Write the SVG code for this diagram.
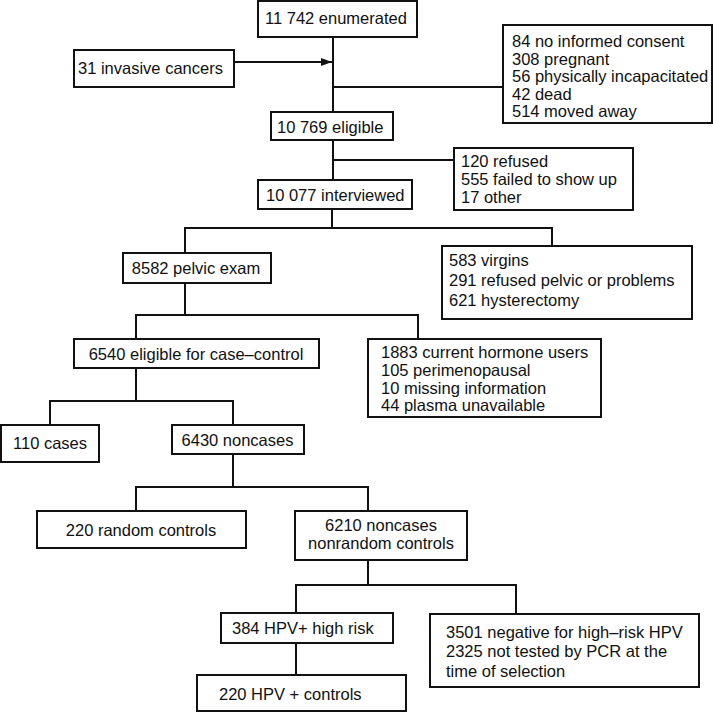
<svg xmlns="http://www.w3.org/2000/svg" width="713" height="713" viewBox="0 0 713 713">
<defs>
<style>
.b{fill:#fff;stroke:#111;stroke-width:2}
.c{fill:none;stroke:#111;stroke-width:2}
text{font-family:"Liberation Sans",Arial,sans-serif;font-size:16.5px;fill:#111}
.m{text-anchor:middle}
</style>
<marker id="ah" markerWidth="12" markerHeight="10" refX="11" refY="5" orient="auto" markerUnits="userSpaceOnUse">
<path d="M0,1 L11,5 L0,9 Z" fill="#111"/>
</marker>
</defs>
<rect width="713" height="713" fill="#fff"/>
<g id="connectors">
<path class="c" d="M333,37 V112"/>
<path class="c" d="M234,62 H332" marker-end="url(#ah)"/>
<path class="c" d="M333,87 H503"/>
<path class="c" d="M333,140 V180"/>
<path class="c" d="M333,160 H454"/>
<path class="c" d="M332,209 V228 M185,253 V228 H552 V246"/>
<path class="c" d="M185,283 V315 M136,339 V315 H418 V339"/>
<path class="c" d="M136,368 V401 M50,425 V401 H233 V425"/>
<path class="c" d="M233,454 V487 M136,511 V487 H368 V511"/>
<path class="c" d="M368,560 V585 M296,613 V585 H516 V614"/>
<path class="c" d="M296,643 V675"/>
</g>
<g id="n1"><rect class="b" x="258" y="1" width="159" height="36"/><text x="265" y="24">11 742 enumerated</text></g>
<g id="n2"><rect class="b" x="74" y="50" width="160" height="37"/><text x="78" y="74">31 invasive cancers</text></g>
<g id="n3"><rect class="b" x="503" y="25" width="209" height="98"/>
<text x="512" y="47">84 no informed consent</text>
<text x="512" y="64.5">308 pregnant</text>
<text x="512" y="82">56 physically incapacitated</text>
<text x="512" y="99.5">42 dead</text>
<text x="512" y="117">514 moved away</text></g>
<g id="n4"><rect class="b" x="271" y="112" width="122" height="28"/><text x="277" y="132.5">10 769 eligible</text></g>
<g id="n5"><rect class="b" x="454" y="148" width="179" height="62"/>
<text x="461" y="167">120 refused</text>
<text x="461" y="185">555 failed to show up</text>
<text x="461" y="203">17 other</text></g>
<g id="n6"><rect class="b" x="258" y="180" width="154" height="29"/><text x="266" y="200.5">10 077 interviewed</text></g>
<g id="n7"><rect class="b" x="123" y="253" width="148" height="30"/><text class="m" x="196" y="274">8582 pelvic exam</text></g>
<g id="n8"><rect class="b" x="442" y="246" width="250" height="73"/>
<text x="449" y="266">583 virgins</text>
<text x="449" y="286">291 refused pelvic or problems</text>
<text x="449" y="306">621 hysterectomy</text></g>
<g id="n9"><rect class="b" x="74" y="339" width="245" height="29"/><text class="m" x="196" y="359.5">6540 eligible for case–control</text></g>
<g id="n10"><rect class="b" x="368" y="339" width="233" height="78"/>
<text x="381" y="358">1883 current hormone users</text>
<text x="381" y="376">105 perimenopausal</text>
<text x="381" y="394">10 missing information</text>
<text x="381" y="411">44 plasma unavailable</text></g>
<g id="n11"><rect class="b" x="1" y="425" width="98" height="37"/><text class="m" x="50" y="449">110 cases</text></g>
<g id="n12"><rect class="b" x="172" y="425" width="132" height="29"/><text class="m" x="237.5" y="446">6430 noncases</text></g>
<g id="n13"><rect class="b" x="37" y="511" width="209" height="37"/><text class="m" x="141" y="536">220 random controls</text></g>
<g id="n14"><rect class="b" x="295" y="511" width="172" height="49"/>
<text class="m" x="381" y="531">6210 noncases</text>
<text class="m" x="381" y="549">nonrandom controls</text></g>
<g id="n15"><rect class="b" x="221" y="613" width="172" height="30"/><text x="232" y="634">384 HPV+ high risk</text></g>
<g id="n16"><rect class="b" x="430" y="614" width="269" height="73"/>
<text x="446" y="638">3501 negative for high–risk HPV</text>
<text x="446" y="657">2325 not tested by PCR at the</text>
<text x="446" y="677">time of selection</text></g>
<g id="n17"><rect class="b" x="197" y="675" width="209" height="36"/><text x="219" y="700">220 HPV + controls</text></g>
</svg>
